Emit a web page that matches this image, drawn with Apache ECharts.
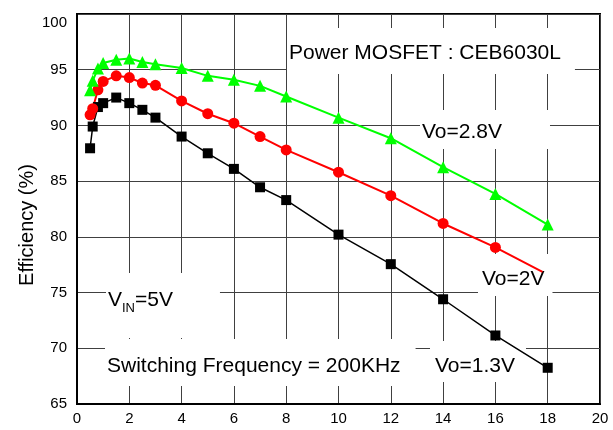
<!DOCTYPE html>
<html>
<head>
<meta charset="utf-8">
<script src="https://cdn.jsdelivr.net/npm/echarts@6/dist/echarts.min.js"></script>
<style>
html,body{margin:0;padding:0;background:#fff;}
#chart{width:613px;height:430px;}
</style>
</head>
<body>
<div id="chart"></div>
<script>
// ---- data ----
var xTicks = [0, 2, 4, 6, 8, 10, 12, 14, 16, 18, 20];
var yTicks = [65, 70, 75, 80, 85, 90, 95, 100];

var freqBlack = [0.5, 0.6, 0.8, 1.0, 1.5, 2, 2.5, 3, 4, 5, 6, 7, 8, 10, 12, 14, 16, 18];
var effBlack  = [87.95, 89.9, 91.65, 92.0, 92.5, 92.0, 91.4, 90.7, 89.0, 87.5, 86.1, 84.45, 83.3, 80.2, 77.55, 74.4, 71.15, 68.25];

var freqRed = [0.5, 0.6, 0.8, 1.0, 1.5, 2, 2.5, 3, 4, 5, 6, 7, 8, 10, 12, 14, 16, 17.8];
var effRed  = [90.95, 91.5, 93.2, 93.95, 94.45, 94.3, 93.8, 93.6, 92.2, 91.05, 90.2, 89.0, 87.8, 85.8, 83.7, 81.2, 79.05, 76.85];

var freqGreen = [0.5, 0.6, 0.8, 1.0, 1.5, 2, 2.5, 3, 4, 5, 6, 7, 8, 10, 12, 14, 16, 18];
var effGreen  = [93.15, 94.0, 95.1, 95.6, 95.9, 96.0, 95.7, 95.5, 95.15, 94.45, 94.1, 93.55, 92.6, 90.7, 88.85, 86.25, 83.85, 81.1];

var seriesNames = ['Vo=1.3V', 'Vo=2V', 'Vo=2.8V'];
var yName = 'Efficiency (%)';
var txtPower = 'Power MOSFET : CEB6030L';
var txtFreq = 'Switching Frequency = 200KHz';

function pairs(xs, ys) {
  return xs.map(function (x, i) { return [x, ys[i]]; });
}

var redData = pairs(freqRed, effRed);
// line end without a marker in the reference
redData[redData.length - 1] = { value: redData[redData.length - 1], symbol: 'none' };

var FONT = 'Liberation Sans, Arial, sans-serif';
var chart = echarts.init(document.getElementById('chart'));

function box(text, left, top, pad, extra) {
  var st = {
    text: text,
    x: 0, y: 0,
    fill: '#000',
    font: '21px ' + FONT,
    backgroundColor: '#fff',
    padding: pad,
    align: 'left',
    verticalAlign: 'top'
  };
  if (extra) for (var k in extra) st[k] = extra[k];
  return { type: 'text', x: left, y: top, z: 1, silent: true, style: st };
}

var option = {
  animation: false,
  backgroundColor: '#fff',
  grid: {
    left: 77, right: 13, top: 14, bottom: 26,
    show: true, borderColor: '#000', borderWidth: 2, backgroundColor: 'transparent'
  },
  xAxis: {
    type: 'value', min: xTicks[0], max: xTicks[xTicks.length - 1], interval: 2,
    axisLine: { show: true, lineStyle: { color: '#000', width: 2 } },
    axisTick: { show: false },
    axisLabel: { color: '#000', fontSize: 15, fontFamily: FONT, margin: 7 },
    splitLine: { show: true, lineStyle: { color: '#404040', width: 1 } }
  },
  yAxis: {
    type: 'value', min: yTicks[0], max: yTicks[yTicks.length - 1], interval: 5,
    name: yName, nameLocation: 'middle', nameGap: 40, nameMoveOverlap: false,
    nameTextStyle: { color: '#000', fontSize: 20, fontFamily: FONT, padding: [0, 32, 0, 0] },
    axisLine: { show: true, lineStyle: { color: '#000', width: 2 } },
    axisTick: { show: false },
    axisLabel: {
      color: '#000', fontSize: 15, fontFamily: FONT, margin: 10,
      formatter: function (v) { return v === 100 ? '{d|' + v + '}' : String(v); },
      rich: { d: { fontSize: 15, fontFamily: FONT, color: '#000', padding: [18, 0, 0, 0] } }
    },
    splitLine: { show: true, lineStyle: { color: '#404040', width: 1 } }
  },
  series: [
    {
      name: seriesNames[0], type: 'line', data: pairs(freqBlack, effBlack),
      symbol: 'rect', symbolSize: 10,
      lineStyle: { color: '#000', width: 1.5 },
      itemStyle: { color: '#000' }, z: 3
    },
    {
      name: seriesNames[1], type: 'line', data: redData,
      symbol: 'circle', symbolSize: 11,
      lineStyle: { color: '#ff0000', width: 2 },
      itemStyle: { color: '#ff0000' }, z: 3
    },
    {
      name: seriesNames[2], type: 'line', data: pairs(freqGreen, effGreen),
      symbol: 'triangle', symbolSize: 12,
      lineStyle: { color: '#00ff00', width: 2 },
      itemStyle: { color: '#00ff00' }, z: 3
    }
  ],
  graphic: [
    box(txtPower, 287, 28, [15, 14, 10, 2]),
    box(seriesNames[2], 420, 110, [12, 48, 6, 2]),
    box(seriesNames[1], 478, 254, [15, 8, 6, 4]),
    box('{v|V}{s|IN}{v|=5V}', 106, 273, [12, 47, 23, 2], {
      rich: {
        v: { fontSize: 21, fontFamily: FONT, fill: '#000' },
        s: { fontSize: 13, fontFamily: FONT, fill: '#000', padding: [17, 0, 0, 0] }
      }
    }),
    box(txtFreq, 105, 339, [17, 15, 9, 2]),
    box(seriesNames[0], 430, 341, [15, 11, 5, 5])
  ]
};
chart.setOption(option);
</script>
</body>
</html>
